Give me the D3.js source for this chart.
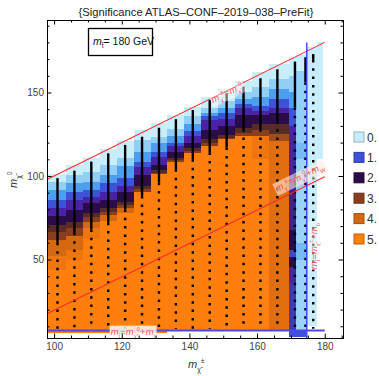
<!DOCTYPE html>
<html>
<head>
<meta charset="utf-8">
<script src="https://cdn.jsdelivr.net/npm/d3@7"></script>
<style>
  body { margin: 0; background: #fff; }
  svg { font-family: "Liberation Sans", Arial, sans-serif; }
</style>
</head>
<body>
<div id="chart"></div>
<script>
const title = "{Significance ATLAS\u2013CONF\u20132019\u2013038\u2013PreFit}";

// heatmap columns (m chargino, GeV)
const colEdges = [97.9, 103.5, 108.5, 113.5, 118.5, 123.5, 128.5, 133.5, 138.5, 143.5,
                  148.5, 153.5, 158.5, 163.5, 169.5, 171.5, 174.6, 177.6, 179.5];
// top of the filled part of each column (m neutralino, GeV)
const colTops = [101, 106.5, 111, 116, 121, 127.5, 132, 136.5, 141.5, 147,
                 152, 157, 162, 167, 171, 172.5, 177, 180];
// bands from top to bottom: [lower edge, significance]
const colBands = [
  [[96.4,0],[91.6,0.35],[85.6,0.7],[80.8,1],[76,1.5],[70.7,2],[66.5,2.5],[61.7,3],[52,4],[44,4.6],[6,5]],
  [[100.6,0],[95.8,0.35],[90.4,0.7],[85.6,1],[79.6,1.5],[72.5,2],[69,2.5],[64,3],[55.7,4],[50,4.6],[6,5]],
  [[102.6,0],[96.6,0.35],[91.6,0.7],[87.6,1],[83.7,1.5],[77.7,2],[75.6,2.5],[72.6,3],[68.9,4],[62,4.6],[6,5]],
  [[106.6,0],[100.6,0.35],[95.6,0.7],[90.6,1],[85.6,1.5],[80.6,2],[78.5,2.5],[76.6,3],[73,4],[6,5]],
  [[110.8,0],[106,0.35],[98.8,0.7],[94,1],[90.4,1.5],[84.4,2],[82.5,2.5],[80.8,3],[78,4],[6,5]],
  [[121.6,0],[114.5,0.35],[108.6,0.7],[105.4,1],[100.6,1.5],[94,2],[92,2.5],[90.6,3],[6,5]],
  [[123.5,0],[119.8,0.35],[114.4,0.7],[111.6,1],[106.6,1.5],[103.5,2],[102,2.5],[101,3],[6,5]],
  [[128,0],[124,0.35],[120,0.7],[118,1],[114.5,1.5],[111,2],[109.5,2.5],[108.6,3],[7.5,5]],
  [[136,0],[131,0.35],[127,0.7],[124,1],[120,1.5],[116.5,2],[115,2.5],[114,3],[7.5,5]],
  [[141,0],[138,0.35],[136,0.7],[133.5,1],[127.5,1.5],[122,2],[120,2.5],[118,3],[7.5,5]],
  [[145,0],[141,0.35],[138,0.7],[134,1],[130,1.5],[124.5,2],[123,2.5],[122,3],[7.5,5]],
  [[150,0],[146,0.35],[143,0.7],[140.5,1],[136.5,1.5],[128.5,2],[126,2.5],[124,3],[7.5,5]],
  [[153,0],[147,0.35],[142,0.7],[139,1],[136.5,1.5],[131,2],[127.5,2.5],[124,3],[110,4.6],[7.5,5]],
  [[158,0],[152,0.35],[146,0.7],[141,1],[138,1.5],[131,2],[125,2.5],[121,3.3],[7.5,4.3]],
  [[160,0],[150,0.35],[141,0.7],[130,1],[97.6,1.5],[67.7,1.6],[55.7,2],[51.5,1.1],[45.5,2],[35.9,1.5],[7.5,1.3],[3.6,1]],
  [[163,0],[120,0.35],[110,0.5],[60,0.3],[50,0.5],[7.5,0.3],[3.6,1]],
  [[10,0]],
  [[110,0]]
];

// scan points: column x, top point, end of the dense part
const pointX = [101, 106, 111, 116, 121, 126, 131, 136, 141, 146, 151, 156, 161, 166, 171.2, 174.3, 176.6];
const pointTop = [98.7, 103.2, 108.6, 113.6, 118.6, 123.5, 128.9, 134, 139.5, 145.5, 149.5, 153.5, 158.5, 163.9, 168.5, 171.1, 173];
const pointDense = [60, 66, 68, 72, 80, 88, 96, 104, 110, 114, 117, 128, 128, 133, 141, 156, 169.5];
const pointBottom = 8.5;

const levelStops = [0, 0.35, 0.7, 1, 1.5, 2, 2.5, 3, 4, 5];
const levelColors = ["#c8eefc", "#92cff7", "#4c9ff0", "#3d52d8", "#4a22a6", "#2a0c48",
                     "#562c24", "#8a3e1e", "#d6680f", "#ff7f0e"];
const legendLevels = [0, 1, 2, 3, 4, 5];

const xTicks = [100, 120, 140, 160, 180];
const yTicks = [50, 100, 150];
const mStop = 180, mTop = 172.5, mW = 80.4, mb = 5.3;

const width = 379, height = 376;
const margin = {left: 47, right: 36, top: 20, bottom: 38};

const svg = d3.select("#chart").append("svg")
  .attr("width", width).attr("height", height);

const x = d3.scaleLinear().domain([97.9, 185.4]).range([margin.left, width - margin.right]);
const y = d3.scaleLinear().domain([3.0, 193.4]).range([height - margin.bottom, margin.top]);
const color = d3.scaleLinear().domain(levelStops).range(levelColors);

svg.append("text")
  .attr("x", 196).attr("y", 16)
  .attr("text-anchor", "middle")
  .attr("font-size", 11.2).attr("fill", "#222")
  .text(title);

// heatmap cells
const cells = [];
colBands.forEach((bands, i) => {
  let upper = colTops[i];
  bands.forEach(([low, v]) => {
    cells.push({x0: colEdges[i], x1: colEdges[i + 1], top: upper, low: low, v: v});
    upper = low;
  });
});

svg.append("g").selectAll("rect").data(cells).enter().append("rect")
  .attr("x", d => x(d.x0))
  .attr("y", d => y(d.top))
  .attr("width", d => x(d.x1) - x(d.x0))
  .attr("height", d => y(d.low) - y(d.top))
  .attr("fill", d => color(d.v))
  .attr("shape-rendering", "crispEdges");

// scan points
const pts = svg.append("g").attr("stroke", "#000").attr("stroke-width", 2.4);
pointX.forEach((px, i) => {
  pts.append("line")
    .attr("x1", x(px)).attr("x2", x(px))
    .attr("y1", y(pointTop[i])).attr("y2", y(pointDense[i]));
  pts.append("line")
    .attr("x1", x(px)).attr("x2", x(px))
    .attr("y1", y(pointDense[i])).attr("y2", y(pointBottom))
    .attr("stroke-dasharray", "2.5 5.85");
});

// kinematic lines
const line = d3.line().x(d => x(d[0])).y(d => y(d[1]));
svg.append("path").datum([[97.9, 97.9], [mStop, mStop]])
  .attr("d", line).attr("stroke", "#ff2a2a").attr("fill", "none").attr("stroke-width", 1.1);
svg.append("path").datum([[97.9, 97.9 - mW], [mStop, mStop - mW]])
  .attr("d", line).attr("stroke", "#ff2a2a").attr("fill", "none").attr("stroke-width", 1.1);
svg.append("path").datum([[mStop - mb, 3], [mStop - mb, 180]])
  .attr("d", line).attr("stroke", "#2f2fff").attr("fill", "none").attr("stroke-width", 1.3);
svg.append("path").datum([[97.9, mStop - mTop], [mStop, mStop - mTop]])
  .attr("d", line).attr("stroke", "#4a4ae8").attr("fill", "none").attr("stroke-width", 1.8);

function mathText(sel, parts, size) {
  let shift = 0;
  parts.forEach(([t, kind]) => {
    const target = kind === "sub" ? size * 0.32 : kind === "sup" ? -size * 0.42 : 0;
    sel.append("tspan")
      .attr("dy", target - shift)
      .attr("font-size", kind === "sub" || kind === "sup" ? size * 0.62 : size)
      .attr("font-style", kind === "i" ? "italic" : null)
      .text(t);
    shift = target;
  });
}

function lineLabel(cx, cy, angle, parts, boxFill) {
  const g = svg.append("g")
    .attr("transform", `translate(${x(cx)},${y(cy)}) rotate(${angle})`);
  const t = g.append("text").attr("text-anchor", "middle").attr("dy", "0.35em")
    .attr("fill", "#ff3838").attr("fill-opacity", 0.85);
  mathText(t, parts, 9.5);
  const b = t.node().getBBox();
  g.insert("rect", "text")
    .attr("x", b.x - 1).attr("y", b.y).attr("width", b.width + 2).attr("height", b.height)
    .attr("fill", boxFill);
}

const slope = Math.atan2(y(150) - y(100), x(150) - x(100)) * 180 / Math.PI;
const chi = "\u03c7\u0303";
lineLabel(151.5, 148, slope,
  [["m", "i"], [chi, "sub"], ["\u00b1", "sup"], ["="], ["m", "i"], [chi, "sub"], ["0", "sup"]],
  "rgba(255,255,255,0.45)");
lineLabel(173, 97.5, slope,
  [["m", "i"], [chi, "sub"], ["\u00b1", "sup"], ["="], ["m", "i"], [chi, "sub"], ["0", "sup"], ["+"], ["m", "i"], ["W", "sub"]],
  "rgba(255,235,225,0.6)");
lineLabel(177.7, 58, -90,
  [["m", "i"], ["t\u0303", "sub"], ["="], ["m", "i"], [chi, "sub"], ["\u00b1", "sup"], ["+"], ["m", "i"], ["b", "sub"]],
  "rgba(255,255,255,0.5)");
lineLabel(123.3, 5.0, 0,
  [["m", "i"], ["t\u0303", "sub"], ["="], ["m", "i"], [chi, "sub"], ["0", "sup"], ["+"], ["m", "i"], ["t", "sub"]],
  "rgba(255,255,255,0.8)");

// frame and ticks
const majorX = d3.range(100, 186, 5).filter(v => v % 20 !== 0);
const minorY = d3.range(10, 194, 10).filter(v => v % 50 !== 0);
const axes = svg.append("g").attr("font-size", 9.4);
const plotBottom = y.range()[0], plotTop = y.range()[1];

axes.append("g").attr("transform", `translate(0,${plotBottom})`)
  .call(d3.axisBottom(x).tickValues(xTicks).tickSizeInner(-4.5).tickSizeOuter(0).tickPadding(5));
axes.append("g").attr("transform", `translate(0,${plotBottom})`)
  .call(d3.axisBottom(x).tickValues(majorX).tickSizeInner(-2.5).tickSizeOuter(0).tickFormat(""));
axes.append("g").attr("transform", `translate(0,${plotTop})`)
  .call(d3.axisTop(x).tickValues(xTicks).tickSizeInner(-4.5).tickSizeOuter(0).tickFormat(""));
axes.append("g").attr("transform", `translate(0,${plotTop})`)
  .call(d3.axisTop(x).tickValues(majorX).tickSizeInner(-2.5).tickSizeOuter(0).tickFormat(""));
axes.append("g").attr("transform", `translate(${margin.left},0)`)
  .call(d3.axisLeft(y).tickValues(yTicks).tickSizeInner(-4.5).tickSizeOuter(0).tickPadding(3));
axes.append("g").attr("transform", `translate(${margin.left},0)`)
  .call(d3.axisLeft(y).tickValues(minorY).tickSizeInner(-2.5).tickSizeOuter(0).tickFormat(""));
axes.append("g").attr("transform", `translate(${width - margin.right},0)`)
  .call(d3.axisRight(y).tickValues(yTicks).tickSizeInner(-4.5).tickSizeOuter(0).tickFormat(""));
axes.append("g").attr("transform", `translate(${width - margin.right},0)`)
  .call(d3.axisRight(y).tickValues(minorY).tickSizeInner(-2.5).tickSizeOuter(0).tickFormat(""));
axes.selectAll(".domain").remove();
axes.selectAll("text").attr("fill", "#444").attr("font-family", "Liberation Sans, Arial, sans-serif");

svg.append("rect")
  .attr("x", margin.left + 0.5).attr("y", plotTop + 0.5)
  .attr("width", x.range()[1] - margin.left).attr("height", plotBottom - plotTop)
  .attr("fill", "none").attr("stroke", "#000");

// m(stop) box
svg.append("rect").attr("x", 88.5).attr("y", 28.5).attr("width", 64).attr("height", 27)
  .attr("fill", "#fff").attr("stroke", "#000").attr("stroke-width", 1.3);
const boxText = svg.append("text").attr("x", 93).attr("y", 45).attr("fill", "#111");
mathText(boxText, [["m", "i"], ["t\u0303", "sub"], ["= " + mStop + " GeV"]], 10.5);

// axis titles
const xt = svg.append("text").attr("x", 188).attr("y", 368).attr("fill", "#333");
mathText(xt, [["m", "i"], [chi, "sub"], ["\u00b1", "sup"]], 11);
const yt = svg.append("text").attr("transform", "translate(17,188) rotate(-90)").attr("fill", "#333");
mathText(yt, [["m", "i"], [chi, "sub"], ["0", "sup"]], 11);

// legend
const legend = svg.append("g").selectAll("g").data(legendLevels).enter().append("g")
  .attr("transform", (d, i) => `translate(354,${132 + i * 20.4})`);
legend.append("rect")
  .attr("width", 10).attr("height", 10)
  .attr("fill", d => color(d))
  .attr("stroke", d => d3.color(color(d)).darker(0.8));
legend.append("text")
  .attr("x", 13).attr("y", 9.5)
  .attr("font-size", 12).attr("fill", "#333")
  .text(d => d + ".");
</script>
</body>
</html>
